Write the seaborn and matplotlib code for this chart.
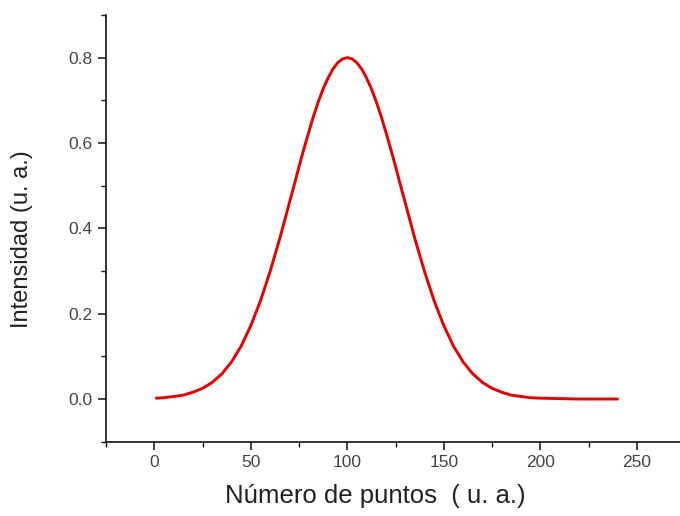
import matplotlib
matplotlib.use("Agg")
import matplotlib.pyplot as plt
from matplotlib.ticker import MultipleLocator
import pandas as pd
import seaborn as sns

# Intensity profile sampled along the point index
puntos = [1, 5, 10, 15, 20, 25, 30, 35, 40, 45, 50, 55, 60, 65, 70, 72.5, 75,
          77.5, 80, 82.5, 85, 87.5, 90, 92.5, 95, 97.5, 100, 102.5, 105, 107.5,
          110, 112.5, 115, 117.5, 120, 122.5, 125, 127.5, 130, 135, 140, 145,
          150, 155, 160, 165, 170, 175, 180, 185, 190, 195, 200, 210, 220, 230,
          240]
intensidad = [0.002, 0.003, 0.006, 0.009, 0.016, 0.025, 0.039, 0.059, 0.087,
              0.124, 0.172, 0.230, 0.299, 0.376, 0.460, 0.502, 0.545, 0.586,
              0.625, 0.663, 0.697, 0.727, 0.752, 0.773, 0.788, 0.797, 0.800,
              0.797, 0.788, 0.773, 0.752, 0.727, 0.697, 0.663, 0.625, 0.586,
              0.545, 0.502, 0.460, 0.376, 0.299, 0.230, 0.172, 0.124, 0.087,
              0.059, 0.039, 0.025, 0.016, 0.009, 0.006, 0.003, 0.002, 0.001,
              0.000, 0.000, 0.000]

x_ticks = [0, 50, 100, 150, 200, 250]
y_ticks = [0.0, 0.2, 0.4, 0.6, 0.8]

x_label = "Número de puntos  ( u. a.)"
y_label = "Intensidad (u. a.)"

df = pd.DataFrame({"puntos": puntos, "intensidad": intensidad})

sns.set_style("ticks")
plt.rcParams["font.family"] = ["Liberation Sans", "DejaVu Sans"]

fig = plt.figure(figsize=(6.8, 5.16), dpi=100)
ax = fig.add_axes([0.156, 0.144, 0.844, 0.827])

sns.lineplot(data=df, x="puntos", y="intensidad", ax=ax,
             color="#e60000", linewidth=2.1, solid_capstyle="round",
             solid_joinstyle="round")

ax.set_xlim(-25, 272.4)
ax.set_ylim(-0.1, 0.9)
ax.set_xticks(x_ticks)
ax.set_yticks(y_ticks)
ax.set_xticklabels([str(v) for v in x_ticks])
ax.set_yticklabels([f"{v:.1f}" for v in y_ticks])
ax.xaxis.set_minor_locator(MultipleLocator(25))
ax.yaxis.set_minor_locator(MultipleLocator(0.1))

for side in ("top", "right"):
    ax.spines[side].set_visible(False)
for side in ("left", "bottom"):
    ax.spines[side].set_linewidth(1.2)
    ax.spines[side].set_color("#111111")

ax.tick_params(which="major", direction="out", length=5.5, width=1.1,
               color="#111111", labelsize=12.5, labelcolor="#444444", pad=4)
ax.tick_params(which="minor", direction="out", length=3.5, width=1.0,
               color="#111111")

ax.set_xlabel(x_label, fontsize=18.5, color="#222222")
ax.set_ylabel(y_label, fontsize=17, color="#222222")
ax.xaxis.set_label_coords(0.4686, -0.099)
ax.yaxis.set_label_coords(-0.127, 0.475)

fig.savefig("out.png", dpi=100)
